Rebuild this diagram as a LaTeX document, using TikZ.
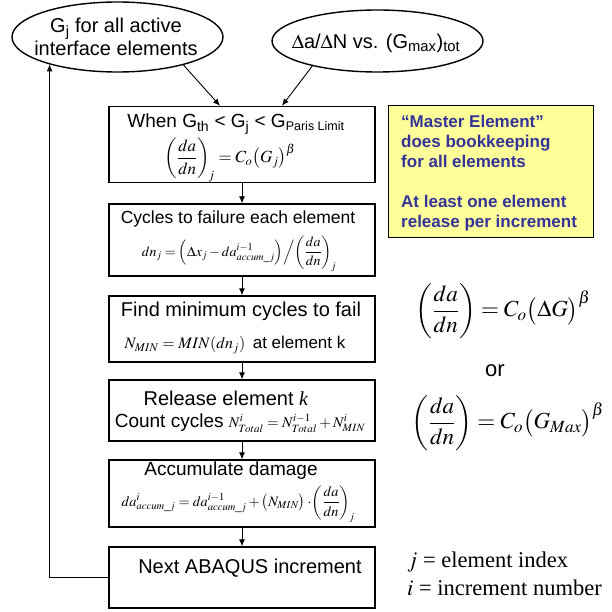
\documentclass[tikz,border=0pt]{standalone}
\usepackage{amsmath}
\usepackage{mathptmx}
\usepackage[no-math]{fontspec}
\setmainfont{Liberation Sans}
\newfontfamily\timesfont{Liberation Serif}
\usetikzlibrary{arrows.meta,shapes.geometric}
\definecolor{noteyellow}{RGB}{255,255,153}
\definecolor{noteblue}{RGB}{51,51,153}
\begin{document}
\begin{tikzpicture}[x=1pt,y=-1pt,
  box/.style={draw, line width=1.4pt, minimum width=266pt, inner sep=0pt},
  oval/.style={draw, ellipse, line width=1.4pt, inner sep=0pt},
  flow/.style={-{Latex[length=7pt,width=6pt]}, line width=0.9pt},
  lbl/.style={inner sep=0pt, font=\fontsize{20}{23}\selectfont},
  eq/.style={inner sep=0pt, font=\fontsize{17}{20}\selectfont},
  note/.style={inner sep=0pt, anchor=west, text=noteblue, font=\fontsize{17}{20}\selectfont\bfseries},
  big/.style={inner sep=0pt, font=\fontsize{23}{27}\selectfont},
  legend/.style={inner sep=0pt, anchor=west, font=\fontsize{22.5}{25}\selectfont\timesfont},
]
\useasboundingbox (0,0) rectangle (611,612);

% ovals
\node[oval, minimum width=211pt, minimum height=70pt] (e1) at (117.5,37) {};
\node[lbl, align=center] (e1t) at (116,37) {G\textsubscript{j} for all active\\interface elements};
\node[oval, minimum width=211pt, minimum height=62pt] (e2) at (377.5,41) {};
\node[lbl] (e2t) at (376,43) {$\Delta$a/$\Delta$N vs. (G\textsubscript{max})\textsubscript{tot}};

% boxes
\node[box, minimum height=76pt] (b1) at (242,144.5) {};
\node[box, minimum height=72pt] (b2) at (242,240) {};
\node[box, minimum height=66pt] (b3) at (242,329) {};
\node[box, minimum height=61pt] (b4) at (242,410.5) {};
\node[box, minimum height=67pt] (b5) at (242,493.5) {};
\node[box, minimum height=61pt] (b6) at (242,577.5) {};

% box texts
\node[lbl, font=\fontsize{19}{22}\selectfont] (t1a) at (236,124) {When G\textsubscript{th} < G\textsubscript{j} < G\textsubscript{\fontsize{12.5}{14}\selectfont Paris Limit}};
\node[eq] (t1b) at (230,160) {$\displaystyle \left(\frac{da}{dn}\right)_{\!j} = C_o\bigl(G_j\bigr)^{\beta}$};
\node[lbl, font=\fontsize{17.5}{20}\selectfont] (t2a) at (238,219) {Cycles to failure each element};
\node[eq, font=\fontsize{14}{17}\selectfont] (t2b) at (239,254) {$\displaystyle dn_j = \Bigl(\Delta x_j - da^{i-1}_{accum\_j}\Bigr)\Big/\!\left(\frac{da}{dn}\right)_{\!j}$};
\node[lbl] (t3a) at (241,311) {Find minimum cycles to fail};
\node[lbl, font=\fontsize{17}{20}\selectfont] (t3b) at (235,345) {{\fontsize{16}{18}\selectfont$N_{MIN} = MIN(dn_j)$}\, at element k};
\node[lbl] (t4a) at (226,398) {Release element \textit{\timesfont k}};
\node[lbl, font=\fontsize{19}{22}\selectfont] (t4b) at (240,423) {Count cycles {\fontsize{15}{18}\selectfont$N^{i}_{Total} = N^{i-1}_{Total} + N^{i}_{MIN}$}};
\node[lbl, font=\fontsize{19}{22}\selectfont] (t5a) at (231,471) {Accumulate damage};
\node[eq, font=\fontsize{14.3}{17}\selectfont] (t5b) at (238,504) {$\displaystyle da^{i}_{accum\_j} = da^{i-1}_{accum\_j} + \bigl(N_{MIN}\bigr)\cdot\!\left(\frac{da}{dn}\right)_{\!j}$};
\node[lbl] (t6) at (250,568) {Next ABAQUS increment};

% connectors
\draw[flow] (e1.-23) -- ([xshift=-22pt]b1.north);
\draw[flow] (e2.201) -- ([xshift=40pt]b1.north);
\draw[flow] (b1) -- (b2);
\draw[flow] (b2) -- (b3);
\draw[flow] (b3) -- (b4);
\draw[flow] (b4) -- (b5);
\draw[flow] (b5) -- (b6);
\draw[flow] (b6.west) -| (e1.202.7);

% yellow note
\node[draw, fill=noteyellow, line width=0.8pt, minimum width=205pt, minimum height=132pt, inner sep=0pt] (note) at (490.5,171) {};
\node[note, align=left] (notet) at (401,173) {``Master Element''\\does bookkeeping\\for all elements\\[20pt]At least one element\\release per increment};

% formulas at right
\node[big] (f1) at (503,311) {$\displaystyle \left(\frac{da}{dn}\right) = C_o\bigl(\Delta G\bigr)^{\beta}$};
\node[lbl, font=\fontsize{22}{25}\selectfont] (orw) at (495,371) {or};
\node[big] (f2) at (508,423) {$\displaystyle \left(\frac{da}{dn}\right) = C_o\bigl(G_{Max}\bigr)^{\beta}$};

% legend
\node[legend] (l1) at (407,562) {$j$ = element index};
\node[legend] (l2) at (407,588) {$i$ = increment number};
\end{tikzpicture}
\end{document}
